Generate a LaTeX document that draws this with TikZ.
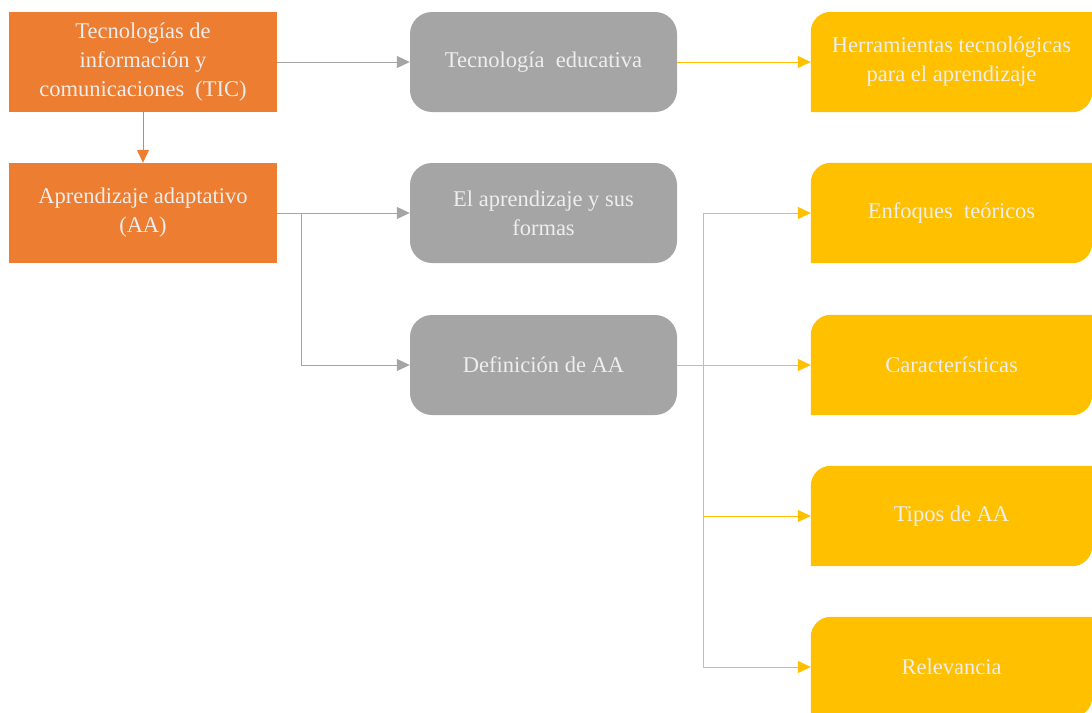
\documentclass[tikz,border=0pt]{standalone}
\usepackage{fontspec}
\setmainfont{Liberation Serif}
\usetikzlibrary{arrows.meta, calc, backgrounds}

\definecolor{ticorange}{HTML}{ED7D31}
\definecolor{aagray}{HTML}{A5A5A5}
\definecolor{aayellow}{HTML}{FFC000}
\definecolor{boxtext}{HTML}{EEEEEE}

\tikzset{
  box/.style={minimum width=268pt, minimum height=100pt, inner sep=0pt, align=center,
    text=boxtext, font=\fontsize{22.5}{29}\selectfont},
  obox/.style={box, fill=ticorange},
  gbox/.style={box, fill=aagray, rounded corners=22pt, minimum width=267pt},
  ybox/.style={box, minimum width=281pt},
  tip/.style={-{Triangle[length=13pt,width=12pt]}},
  oline/.style={ticorange, line width=1pt, tip},
  gline/.style={aagray, line width=1pt, tip},
  yline/.style={aayellow, line width=1pt, tip}
}

% yellow box: only top left and bottom right corners are round
\newcommand{\yshape}[1]{%
  \fill[aayellow] (#1.south west) -- ($(#1.north west)+(0pt,-20pt)$)
    arc[start angle=180, end angle=90, radius=20pt] -- (#1.north east)
    -- ($(#1.south east)+(0pt,20pt)$)
    arc[start angle=0, end angle=-90, radius=20pt] -- cycle;}

\begin{document}
\begin{tikzpicture}[x=1pt, y=-1pt]
    \clip (0,0) rectangle (1092,712);

    % Left column
    \node[obox] (tic) at (143,62) {Tecnologías de\\información y\\comunicaciones\ \ (TIC)};
    \node[obox] (aa) at (143,213) {Aprendizaje adaptativo\\(AA)};

    % Middle column
    \node[gbox] (tecedu) at (543.5,62) {Tecnología\ \ educativa};
    \node[gbox] (formas) at (543.5,213) {El aprendizaje y sus\\formas};
    \node[gbox] (defaa) at (543.5,365) {Definición de AA};

    % Right column
    \node[ybox] (herr) at (951.5,62) {Herramientas tecnológicas\\para el aprendizaje};
    \node[ybox] (enfoques) at (951.5,213) {Enfoques\ \ teóricos};
    \node[ybox] (caract) at (951.5,365) {Características};
    \node[ybox] (tipos) at (951.5,516) {Tipos de AA};
    \node[ybox] (relev) at (951.5,667) {Relevancia};

    \begin{scope}[on background layer]
        \yshape{herr}
        \yshape{enfoques}
        \yshape{caract}
        \yshape{tipos}
        \yshape{relev}
    \end{scope}

    % Connectors
    \coordinate (gsplit) at (301,213);
    \coordinate (ysplit) at (703,365);

    \draw[oline] (tic) -- (aa);
    \draw[gline] (tic) -- (tecedu);
    \draw[gline] (aa) -- (formas);
    \draw[gline, -] (aa.east) -- (gsplit);
    \draw[gline] (gsplit) |- (defaa);

    \draw[yline] (tecedu) -- (herr);
    \draw[yline, -] (defaa.east) -- (ysplit);
    \draw[yline] (ysplit) |- (enfoques);
    \draw[yline] (ysplit) -- (caract);
    \draw[yline] (ysplit) |- (tipos);
    \draw[yline] (ysplit) |- (relev);
\end{tikzpicture}
\end{document}
